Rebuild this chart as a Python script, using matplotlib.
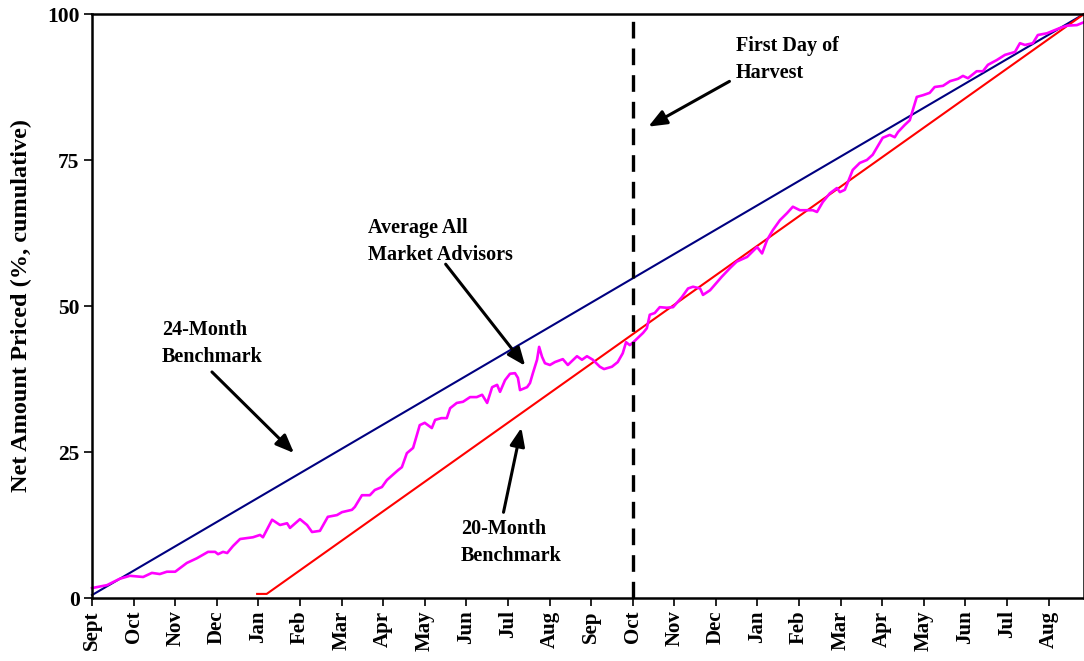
import matplotlib
matplotlib.use("Agg")
import matplotlib.pyplot as plt

plt.rcParams['font.family'] = ['Liberation Serif', 'DejaVu Serif']
plt.rcParams['font.weight'] = 'bold'

# month labels, Sept (year 1) through Aug (year 3)
months = ["Sept", "Oct", "Nov", "Dec", "Jan", "Feb", "Mar", "Apr", "May", "Jun", "Jul", "Aug",
          "Sep", "Oct", "Nov", "Dec", "Jan", "Feb", "Mar", "Apr", "May", "Jun", "Jul", "Aug"]

# benchmarks (x in months since Sept 1)
bench24_x = [0.0, 23.85]
bench24_y = [0.5, 100.0]
bench20_x = [3.97, 4.2, 23.85]
bench20_y = [0.7, 0.7, 100.0]

# average of all market advisors
adv_x = [0.0, 0.36, 0.67, 0.91, 1.23, 1.44, 1.63, 1.80, 2.0, 2.28, 2.52, 2.79, 2.96, 3.03, 3.15,
         3.25, 3.39, 3.56, 3.87, 4.04, 4.11, 4.33, 4.52, 4.69, 4.76, 5.0, 5.17, 5.29, 5.48, 5.67,
         5.89, 6.01, 6.25, 6.32, 6.49, 6.68, 6.80, 6.97, 7.09, 7.36, 7.45, 7.57, 7.72, 7.88, 8.0,
         8.17, 8.25, 8.40, 8.53, 8.61, 8.77, 8.92, 9.09, 9.25, 9.38, 9.50, 9.62, 9.74, 9.81, 9.93,
         10.05, 10.17, 10.24, 10.29, 10.46, 10.53, 10.60, 10.70, 10.75, 10.82, 10.89, 11.01, 11.13,
         11.32, 11.44, 11.66, 11.78, 11.90, 12.04, 12.21, 12.31, 12.50, 12.64, 12.76, 12.84, 12.93,
         13.0, 13.25, 13.34, 13.41, 13.53, 13.65, 13.82, 13.97, 14.18, 14.33, 14.45, 14.62, 14.69,
         14.86, 15.14, 15.34, 15.50, 15.75, 15.99, 16.11, 16.23, 16.37, 16.54, 16.71, 16.85, 17.02,
         17.33, 17.43, 17.57, 17.74, 17.91, 17.98, 18.10, 18.29, 18.46, 18.63, 18.77, 18.87, 19.01,
         19.18, 19.30, 19.38, 19.54, 19.66, 19.83, 19.98, 20.14, 20.26, 20.46, 20.63, 20.82, 20.94,
         21.06, 21.27, 21.42, 21.54, 21.75, 21.95, 22.19, 22.31, 22.43, 22.62, 22.74, 22.96, 23.27,
         23.44, 23.68, 23.85]
adv_y = [1.7, 2.2, 3.3, 3.8, 3.6, 4.3, 4.1, 4.5, 4.5, 6.0, 6.8, 7.9, 7.9, 7.5, 7.9,
         7.7, 8.9, 10.1, 10.4, 10.8, 10.4, 13.4, 12.5, 12.8, 12.0, 13.5, 12.5, 11.3, 11.5, 13.9,
         14.2, 14.7, 15.1, 15.6, 17.6, 17.6, 18.5, 19.0, 20.2, 21.9, 22.4, 24.8, 25.7, 29.6, 30.0,
         29.1, 30.5, 30.8, 30.8, 32.5, 33.4, 33.6, 34.4, 34.4, 34.8, 33.4, 36.1, 36.5, 35.3, 37.3,
         38.4, 38.5, 37.7, 35.6, 36.1, 36.8, 38.5, 40.8, 43.0, 41.3, 40.2, 39.9, 40.4,
         40.9, 39.9, 41.4, 40.8, 41.4, 40.8, 39.6, 39.2, 39.6, 40.4, 41.9, 43.8, 43.3,
         43.7, 45.4, 46.2, 48.5, 48.8, 49.8, 49.7, 49.8, 51.5, 53.0, 53.3, 53.0, 51.9,
         52.7, 55.0, 56.5, 57.6, 58.4, 60.1, 59.0, 61.3, 63.0, 64.7, 65.9, 67.0, 66.4,
         66.4, 66.1, 67.8, 69.3, 70.2, 69.5, 69.9, 73.3, 74.5, 75.0, 75.9, 77.1, 78.8,
         79.3, 78.9, 79.8, 81.0, 81.8, 85.8, 86.1, 86.5, 87.5, 87.7, 88.5, 88.9, 89.4,
         89.0, 90.2, 90.2, 91.3, 92.1, 93.0, 93.5, 95.0, 94.7, 95.0, 96.4, 96.7, 97.6,
         98.0, 98.1, 98.6]

harvest_x = 13

fig = plt.figure(figsize=(10.84, 6.61), dpi=100)
ax = fig.add_axes([92/1084, 1 - 598/661, 992/1084, 584/661])

ax.plot(bench24_x, bench24_y, color='#000080', lw=1.5, clip_on=False)
ax.plot(bench20_x, bench20_y, color='#ff0000', lw=1.5, clip_on=False)
ax.plot(adv_x, adv_y, color='#ff00ff', lw=1.9, clip_on=False)
ax.axvline(harvest_x, color='black', lw=2.4, dashes=(5, 3))

ax.set_xlim(0, 23.85)
ax.set_ylim(0, 100)
ax.set_xticks(range(len(months)))
ax.set_xticklabels(months, rotation=90, fontsize=15, fontweight='bold')
ax.set_yticks([0, 25, 50, 75, 100])
ax.set_yticklabels(['0', '25', '50', '75', '100'], fontsize=15.5, fontweight='bold')
ax.tick_params(direction='out', length=6, width=1.2, pad=3)
ax.set_ylabel('Net Amount Priced (%, cumulative)', fontsize=17.5, fontweight='bold', labelpad=11)
for s in ax.spines.values():
    s.set_linewidth(1.8)

arrow = dict(arrowstyle='-|>,head_length=1.1,head_width=0.45', color='black', lw=2.2)
fs = 14.5

def px(x, y):
    # convert picture pixel coordinates to data coordinates
    return ((x - 92) / 41.6, (598 - y) / 5.84)

ax.annotate('First Day of\nHarvest', xy=px(646, 128), xytext=px(736, 36),
            fontsize=fs, fontweight='bold', ha='left', va='top', linespacing=1.45)
ax.annotate('', xy=px(646, 128), xytext=px(732, 80), arrowprops=arrow)

ax.annotate('Average All\nMarket Advisors', xy=px(527, 368), xytext=px(368, 218),
            fontsize=fs, fontweight='bold', ha='left', va='top', linespacing=1.45)
ax.annotate('', xy=px(527, 368), xytext=px(444, 262), arrowprops=arrow)

ax.annotate('24-Month\nBenchmark', xy=px(296, 455), xytext=px(162, 320),
            fontsize=fs, fontweight='bold', ha='left', va='top', linespacing=1.45)
ax.annotate('', xy=px(296, 455), xytext=px(210, 370), arrowprops=arrow)

ax.annotate('20-Month\nBenchmark', xy=px(522, 425), xytext=px(461, 519),
            fontsize=fs, fontweight='bold', ha='left', va='top', linespacing=1.45)
ax.annotate('', xy=px(522, 425), xytext=px(503, 515), arrowprops=arrow)

fig.savefig('out.png', dpi=100)
